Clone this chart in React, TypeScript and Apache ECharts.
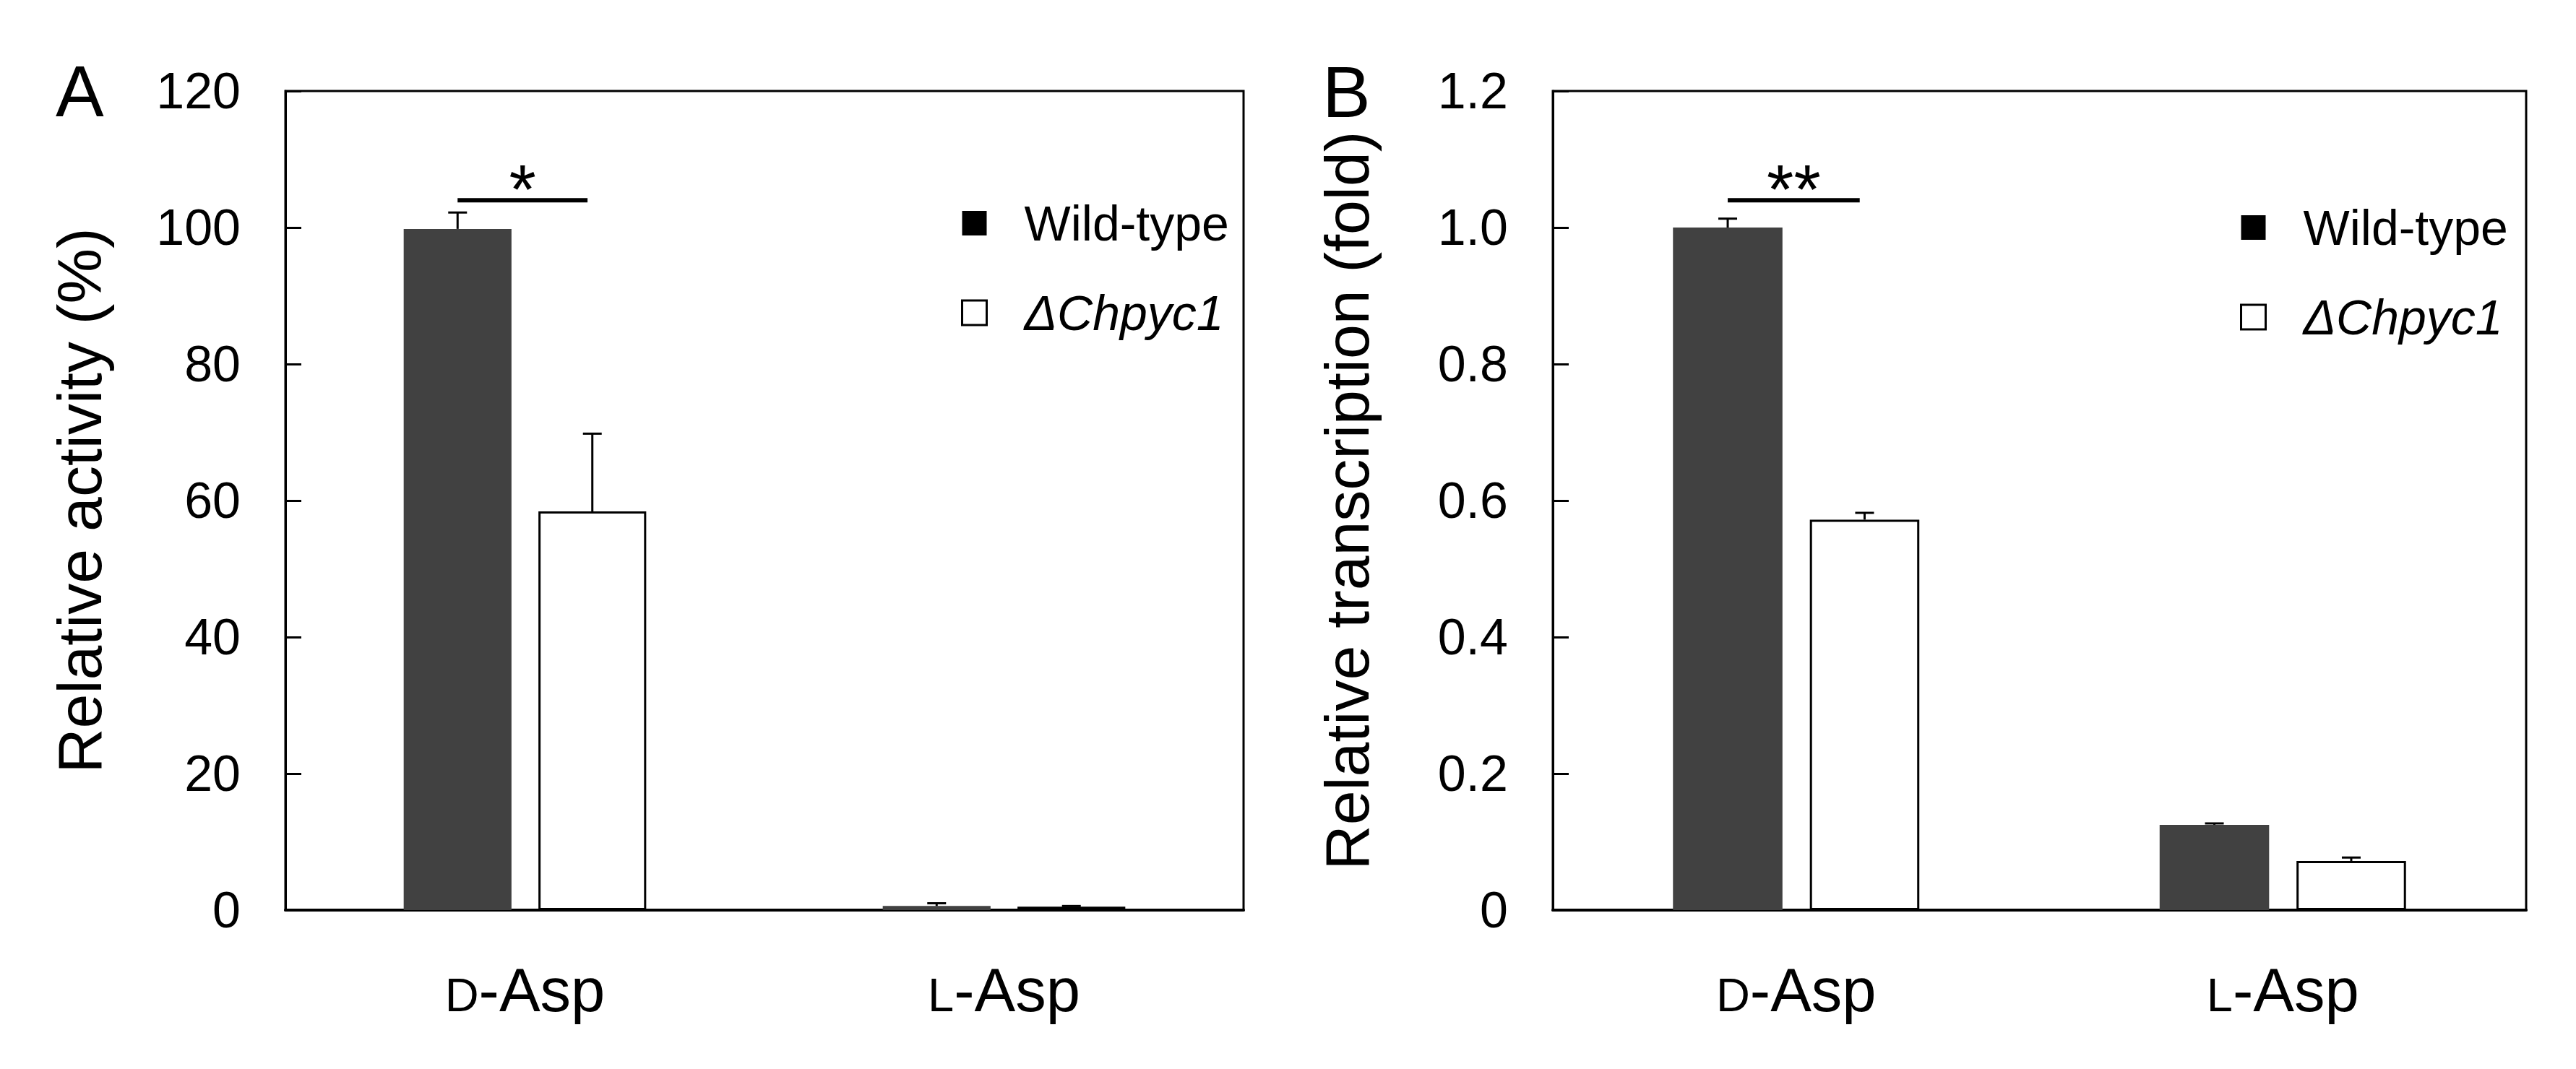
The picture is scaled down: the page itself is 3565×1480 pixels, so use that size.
import React, { useEffect, useRef } from "react";
import * as echarts from "echarts";

const categories = ["D-Asp", "L-Asp"];

const activityWT = [99.8, 0.6];
const activityWTErr = [2.4, 0.4];
const activityKO = [58.4, 0.5];
const activityKOErr = [11.4, 0.1];

const transWT = [1.0, 0.125];
const transWTErr = [0.013, 0.002];
const transKO = [0.572, 0.072];
const transKOErr = [0.01, 0.005];

const sigA = { level: 104, mark: "*" };
const sigB = { level: 1.04, mark: "**" };

const FONT = "'Liberation Sans', Arial, Helvetica, sans-serif";
const WT_NAME = "Wild-type";
const KO_NAME = "ΔChpyc1";

const BAR_W = 0.225;
const BAR_GAP = 0.25;
const OFFSET = (BAR_W + BAR_W * BAR_GAP) / 2;

function errRender(sign: number) {
  return (params: any, api: any) => {
    const ci = api.value(0);
    const v = api.value(1);
    const e = api.value(2);
    const bw = api.size([1, 0])[0];
    const base = api.coord([ci, v]);
    const top = api.coord([ci, v + e]);
    const x = base[0] + sign * OFFSET * bw;
    return {
      type: "group",
      children: [
        { type: "line", shape: { x1: x, y1: base[1], x2: x, y2: top[1] }, style: { stroke: "#000", lineWidth: 3 } },
        { type: "line", shape: { x1: x - 13, y1: top[1], x2: x + 13, y2: top[1] }, style: { stroke: "#000", lineWidth: 3 } },
      ],
    };
  };
}

function sigRender(params: any, api: any) {
  const ci = api.value(0);
  const lv = api.value(1);
  const bw = api.size([1, 0])[0];
  const c = api.coord([ci, lv]);
  const x1 = c[0] - OFFSET * bw;
  const x2 = c[0] + OFFSET * bw - 0.01 * bw;
  const mark = params.seriesName === "sigA" ? sigA.mark : sigB.mark;
  return {
    type: "group",
    children: [
      { type: "line", shape: { x1, y1: c[1], x2, y2: c[1] }, style: { stroke: "#000", lineWidth: 6 } },
      {
        type: "text",
        x: (x1 + x2) / 2,
        y: c[1] - 16,
        style: { text: mark, fontSize: 96, fontFamily: FONT, fill: "#000", align: "center", verticalAlign: "middle" },
      },
    ],
  };
}

function makeErrData(vals: number[], errs: number[]) {
  return vals.map((v, i) => [i, v, errs[i]]);
}

export default function App() {
  const ref = useRef<HTMLDivElement>(null);
  useEffect(() => {
    if (!ref.current) return;
    const chart = echarts.init(ref.current, null, { renderer: "svg" });

    const xAxisBase = (gridIndex: number) => ({
      type: "category",
      gridIndex,
      data: categories,
      axisTick: { show: false },
      axisLine: { lineStyle: { color: "#000", width: 4 } },
      axisLabel: {
        margin: 68,
        formatter: (v: string) => `{sc|${v[0]}}{n|${v.slice(1)}}`,
        rich: {
          sc: { fontSize: 65, height: 71, fontFamily: FONT, color: "#000", verticalAlign: "bottom" },
          n: { fontSize: 85, height: 85, lineHeight: 85, fontFamily: FONT, color: "#000", verticalAlign: "bottom" },
        },
      },
    });

    const yAxisBase = (gridIndex: number, max: number, interval: number, name: string, fmt: (v: number) => string) => ({
      type: "value",
      gridIndex,
      min: 0,
      max,
      interval,
      name,
      nameLocation: "middle",
      nameGap: 242,
      nameTextStyle: { fontSize: 86, fontFamily: FONT, color: "#000" },
      splitLine: { show: false },
      axisLine: { show: true, lineStyle: { color: "#000", width: 3 } },
      axisTick: { show: true, inside: true, length: 22, lineStyle: { color: "#000", width: 3 } },
      axisLabel: { margin: 62, fontSize: 70, fontFamily: FONT, color: "#000", formatter: fmt },
    });

    const legendBase = (left: number, top: number) => ({
      orient: "vertical",
      left,
      top,
      itemWidth: 34,
      itemHeight: 34,
      itemGap: 56,
      selectedMode: false,
      formatter: (name: string) => (name === KO_NAME ? `{i|${name}}` : `{n|${name}}`),
      textStyle: {
        color: "#000",
        fontSize: 68,
        fontFamily: FONT,
        rich: {
          n: { fontSize: 68, fontFamily: FONT, color: "#000", padding: [0, 0, 0, 47] },
          i: { fontSize: 68, fontFamily: FONT, color: "#000", fontStyle: "italic", padding: [0, 0, 0, 47] },
        },
      },
      data: [
        { name: WT_NAME, icon: "rect", itemStyle: { color: "#000", borderWidth: 0 } },
        { name: KO_NAME, icon: "rect", itemStyle: { color: "#fff", borderColor: "#000", borderWidth: 3 } },
      ],
    });

    const barSeries = (name: string, idx: number, data: number[], wt: boolean) => ({
      type: "bar",
      name,
      xAxisIndex: idx,
      yAxisIndex: idx,
      data,
      barWidth: `${BAR_W * 100}%`,
      barGap: `${BAR_GAP * 100}%`,
      itemStyle: wt ? { color: "#414141" } : { color: "#fff", borderColor: "#000", borderWidth: 3 },
      emphasis: { disabled: true },
    });

    const errSeries = (name: string, idx: number, vals: number[], errs: number[], sign: number) => ({
      type: "custom",
      name,
      xAxisIndex: idx,
      yAxisIndex: idx,
      data: makeErrData(vals, errs),
      renderItem: errRender(sign),
      z: 5,
    });

    chart.setOption({
      animation: false,
      backgroundColor: "#fff",
      grid: [
        { left: 395, top: 126, width: 1326, height: 1134, show: true, borderColor: "#000", borderWidth: 3 },
        { left: 2149, top: 126, width: 1347, height: 1134, show: true, borderColor: "#000", borderWidth: 3 },
      ],
      xAxis: [xAxisBase(0), xAxisBase(1)],
      yAxis: [
        yAxisBase(0, 120, 20, "Relative activity (%)", (v: number) => String(v)),
        yAxisBase(1, 1.2, 0.2, "Relative transcription (fold)", (v: number) => (v === 0 ? "0" : v.toFixed(1))),
      ],
      legend: [legendBase(1325, 270), legendBase(3095, 276)],
      graphic: [
        { type: "text", left: 77, top: 76, style: { text: "A", fontSize: 100, fontFamily: FONT, fill: "#000" } },
        { type: "text", left: 1830, top: 77, style: { text: "B", fontSize: 100, fontFamily: FONT, fill: "#000" } },
      ],
      series: [
        barSeries(WT_NAME, 0, activityWT, true),
        barSeries(KO_NAME, 0, activityKO, false),
        barSeries(WT_NAME, 1, transWT, true),
        barSeries(KO_NAME, 1, transKO, false),
        errSeries("errA1", 0, activityWT, activityWTErr, -1),
        errSeries("errA2", 0, activityKO, activityKOErr, 1),
        errSeries("errB1", 1, transWT, transWTErr, -1),
        errSeries("errB2", 1, transKO, transKOErr, 1),
        { type: "custom", name: "sigA", xAxisIndex: 0, yAxisIndex: 0, data: [[0, sigA.level]], renderItem: sigRender, z: 6 },
        { type: "custom", name: "sigB", xAxisIndex: 1, yAxisIndex: 1, data: [[0, sigB.level]], renderItem: sigRender, z: 6 },
      ],
    });
    return () => chart.dispose();
  }, []);
  return <div ref={ref} style={{ position: "fixed", left: 0, top: 0, width: 3565, height: 1480 }} />;
}
